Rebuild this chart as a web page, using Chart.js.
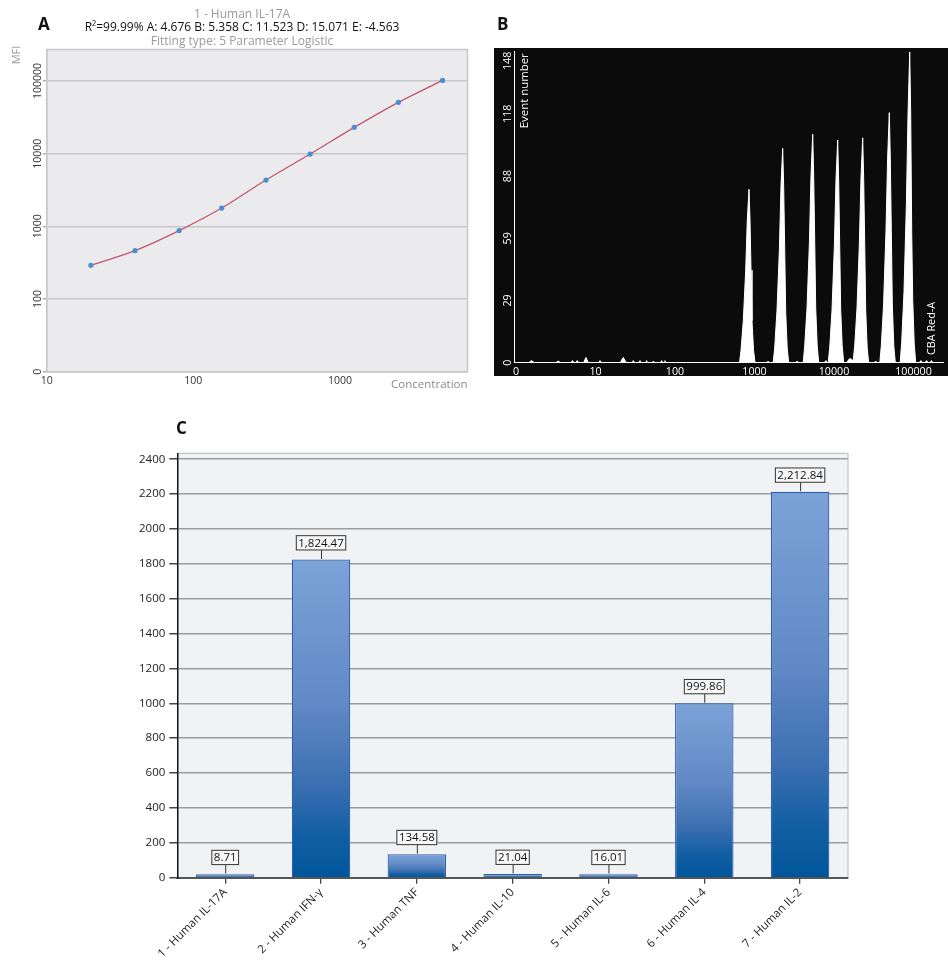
<!DOCTYPE html>
<html><head><meta charset="utf-8">
<script src="https://cdn.jsdelivr.net/npm/chart.js@4.4.1/dist/chart.umd.min.js"></script>
<style>
html,body{margin:0;padding:0;background:#fff;width:948px;height:960px;overflow:hidden;}
canvas{position:absolute;}
#cA{left:0;top:0;}
#cB{left:490px;top:0;}
#cC{left:100px;top:400px;}
</style></head>
<body>
<canvas id="cA" width="480" height="395"></canvas>
<canvas id="cB" width="458" height="380"></canvas>
<canvas id="cC" width="790" height="560"></canvas>
<script>
// ---------- Panel A data ----------
const stdConc = [20, 40, 80, 156, 312.5, 625, 1250, 2500, 5000];
const stdMFI = [291, 463, 873, 1785, 4335, 9874, 23000, 50770, 101900];
const aXTicks = [10, 100, 1000];
const aYTicks = [10, 100, 1000, 10000, 100000];
const aYTickLabels = ['0', '100', '1000', '10000', '100000'];
const aTitle = '1 - Human IL-17A';
const aFit = 'R\u00B2=99.99% A: 4.676 B: 5.358 C: 11.523 D: 15.071 E: -4.563';
const aFitType = 'Fitting type: 5 Parameter Logistic';

// ---------- Panel B data ----------
const bXTicks = [0, 10, 100, 1000, 10000, 100000];
const bYTicks = [0, 29.6, 59.2, 88.8, 118.4, 148];
const histMFI = [
  0,1.6,1.97,2.3,5.0,5.3,5.6,6.9,7.1,7.3,7.5,7.7,7.9,8.5,8.8,9.1,11,11.4,11.8,
  20.5,21.5,22.4,23.4,24.5,29,29.9,30.8,35,36.3,37.5,43,44,45,52,53.5,55,66,68,70,73,74.8,76.5,
  648,677,723,775,812,853,878,904,930,972,1015,
  1400,1480,1560,
  1719,1795,1919,2057,2154,2263,2330,2398,2468,2578,2693,
  3300,3450,3600,
  4099,4281,4577,4905,5137,5397,5556,5719,5887,6148,6422,
  7600,7900,8200,
  8453,8830,9438,10116,10595,11130,11457,11794,12141,12679,13244,
  14500,15300,16000,16700,
  17438,18214,19470,20868,21856,22960,23635,24331,25045,26156,27320,
  32000,33500,35000,
  37679,39356,42069,45091,47224,49610,51069,52572,54115,56516,59031,
  68051,71080,75981,81437,85290,89600,92234,94949,97736,102072,106615,
  118000,124000,130000,140000,146000,152000,162000,168000,175000,235000
];
const histCount = [
  0,0,1,0,0,0.8,0,0,1,0,0,1,0,0,2.5,0,0,1,0,
  0,1.5,2.5,1.2,0,0,1,0,0,1,0,0,1,0,0,0.8,0,0,1,0,0,1,0,
  0,6,20,44,68,82.5,68,44,20,6,0,
  0,0.6,0,
  0,7,25,54,84,102,83,54,24,7,0,
  0,0.8,0,
  0,8,26,57,89,108.7,88,58,26,8,0,
  0,1,0,
  0,7,25,56,87,106,86,56,25,8,0,
  0,1.5,2,1.5,
  1,8,26,57,88,107,87,57,25,7,0,
  0,0.8,0,
  0,8,28,63,97,119,97,63,28,8,0,
  0,10,34,76,118,148,118,62,30,9,0,
  0,1,0,0,1,0,0,1,0,0
];

// ---------- Panel C data ----------
const cytokines = ['1 - Human IL-17A','2 - Human IFN-\u03B3','3 - Human TNF','4 - Human IL-10','5 - Human IL-6','6 - Human IL-4','7 - Human IL-2'];
const concentrations = [8.71, 1824.47, 134.58, 21.04, 16.01, 999.86, 2212.84];
const cYTicks = [0, 200, 400, 600, 800, 1000, 1200, 1400, 1600, 1800, 2000, 2200, 2400];

// ---------- helpers ----------
Chart.defaults.font.family = '"Open Sans", sans-serif';
function vtext(ctx, text, x, y, align, font, color) {
  ctx.save(); ctx.translate(x, y); ctx.rotate(-Math.PI / 2);
  ctx.font = font; ctx.fillStyle = color; ctx.textAlign = align; ctx.textBaseline = 'middle';
  ctx.fillText(text, 0, 0); ctx.restore();
}
function htext(ctx, text, x, y, align, font, color) {
  ctx.save(); ctx.font = font; ctx.fillStyle = color; ctx.textAlign = align; ctx.textBaseline = 'middle';
  ctx.fillText(text, x, y); ctx.restore();
}
function toAxis(v) { return v <= 10 ? v / 10 : Math.log10(v); }

// ---------- Panel A ----------
const panelA = {
  id: 'panelA',
  beforeDraw(chart) {
    const c = chart.ctx, a = chart.chartArea;
    c.save(); c.fillStyle = '#ebebed'; c.fillRect(a.left, a.top, a.right - a.left, a.bottom - a.top); c.restore();
  },
  afterDraw(chart) {
    const c = chart.ctx, a = chart.chartArea, ys = chart.scales.y;
    c.save(); c.strokeStyle = '#c8c8c8'; c.lineWidth = 1.5;
    c.strokeRect(a.left, a.top, a.right - a.left, a.bottom - a.top); c.restore();
    ys.ticks.forEach((t, i) => {
      vtext(c, aYTickLabels[i], a.left - 9, ys.getPixelForValue(t.value), 'center', '10.5px "Open Sans"', '#333');
    });
    htext(c, aTitle, 242, 14.5, 'center', '12px "Open Sans"', '#9a9a9a');
    htext(c, aFit, 242, 28, 'center', '12px "Open Sans"', '#111');
    htext(c, aFitType, 242, 42, 'center', '12px "Open Sans"', '#9a9a9a');
    vtext(c, 'MFI', 17, 55, 'center', '11px "Open Sans"', '#9a9a9a');
    htext(c, 'Concentration', a.right, 385, 'right', '11.5px "Open Sans"', '#8a8a8a');
    c.save(); c.font = 'bold 17px "Open Sans"'; c.fillStyle = '#111'; c.textAlign = 'left'; c.textBaseline = 'alphabetic';
    c.fillText('A', 38, 30); c.restore();
  }
};
new Chart(document.getElementById('cA'), {
  type: 'line',
  data: { datasets: [{
    data: stdConc.map((v, i) => ({ x: v, y: stdMFI[i] })),
    borderColor: '#c4566c', borderWidth: 1.3, fill: false,
    pointRadius: 2.6, pointBackgroundColor: '#4b8fd3', pointBorderColor: '#4b8fd3', pointBorderWidth: 0,
    cubicInterpolationMode: 'monotone'
  }]},
  options: {
    responsive: false, animation: false, events: [],
    layout: { padding: { top: 49.5, right: 12.5, left: 0, bottom: 0 } },
    plugins: { legend: { display: false }, tooltip: { enabled: false } },
    scales: {
      x: { type: 'logarithmic', min: 10, max: 7396,
        afterBuildTicks: s => { s.ticks = aXTicks.map(v => ({ value: v })); },
        afterFit: s => { s.height = 23.3; },
        grid: { display: false, drawTicks: false },
        border: { color: '#c8c8c8', width: 1.5 },
        ticks: { color: '#333', font: { size: 10.5 }, padding: 3, maxRotation: 0, autoSkip: false, callback: v => String(v) } },
      y: { type: 'logarithmic', min: 10, max: 271000,
        afterBuildTicks: s => { s.ticks = aYTicks.map(v => ({ value: v })); },
        afterFit: s => { s.width = 46.7; },
        grid: { color: '#c8c8ca', lineWidth: 1.5, tickLength: 4, tickColor: '#b0b0b0' },
        border: { color: '#c8c8c8', width: 1.5 },
        ticks: { display: false } }
    }
  },
  plugins: [panelA]
});

// ---------- Panel B ----------
const panelB = {
  id: 'panelB',
  beforeDraw(chart) {
    const c = chart.ctx, a = chart.chartArea;
    c.save(); c.fillStyle = '#0b0b0b';
    c.fillRect(a.left - 20, a.top - 3.7, chart.width - (a.left - 20), (a.bottom + 13.3) - (a.top - 3.7));
    c.restore();
  },
  afterDraw(chart) {
    const c = chart.ctx, a = chart.chartArea, ys = chart.scales.y;
    const f = '10.7px "Open Sans"';
    c.save(); c.font = f;
    ys.ticks.forEach(t => {
      const s = String(Math.floor(t.value));
      const hw = c.measureText(s).width / 2;
      const y = Math.max(ys.getPixelForValue(t.value), a.top + hw);
      vtext(c, s, a.left - 6, y, 'center', f, '#fff');
    });
    c.restore();
    vtext(c, 'Event number', a.left + 11, a.top + 1.6, 'right', '11.4px "Open Sans"', '#fff');
    vtext(c, 'CBA Red-A', a.right - 11, a.bottom - 7.7, 'left', '10.8px "Open Sans"', '#fff');
    c.save(); c.font = 'bold 17px "Open Sans"'; c.fillStyle = '#111'; c.textAlign = 'left'; c.textBaseline = 'alphabetic';
    c.fillText('B', 7, 30); c.restore();
  }
};
new Chart(document.getElementById('cB'), {
  type: 'line',
  data: { datasets: [{
    data: histMFI.map((v, i) => ({ x: toAxis(v), y: histCount[i] })),
    borderColor: '#ffffff', borderWidth: 1, backgroundColor: '#ffffff', fill: 'origin',
    pointRadius: 0, tension: 0
  }]},
  options: {
    responsive: false, animation: false, events: [],
    layout: { padding: { top: 51.7, right: 5, left: 0, bottom: 0 } },
    plugins: { legend: { display: false }, tooltip: { enabled: false } },
    scales: {
      x: { type: 'linear', min: -0.025, max: 5.371,
        afterBuildTicks: s => { s.ticks = bXTicks.map(v => ({ value: toAxis(v) })); },
        afterFit: s => { s.height = 17.3; },
        grid: { display: false, drawTicks: false },
        border: { color: '#ffffff', width: 1 },
        ticks: { color: '#fff', font: { size: 10.7 }, padding: 3, maxRotation: 0, autoSkip: false, callback: (v, i) => String(bXTicks[i]) } },
      y: { type: 'linear', min: 0, max: 148,
        afterBuildTicks: s => { s.ticks = bYTicks.map(v => ({ value: v })); },
        afterFit: s => { s.width = 24; },
        grid: { display: false, drawTicks: false },
        border: { color: '#ffffff', width: 1 },
        ticks: { display: false } }
    }
  },
  plugins: [panelB]
});

// ---------- Panel C ----------
function barGradient(ctx) {
  const chart = ctx.chart;
  if (!chart.chartArea || ctx.type !== 'data') return '#5b87c4';
  const ys = chart.scales.y;
  const bot = ys.getPixelForValue(0);
  const top = Math.min(ys.getPixelForValue(ctx.raw), bot - 3.5);
  if (!isFinite(top) || !isFinite(bot) || bot - top < 1) return '#5b87c4';
  const g = chart.ctx.createLinearGradient(0, top, 0, bot);
  g.addColorStop(0, '#7ca3d8');
  g.addColorStop(0.45, '#6189c5');
  g.addColorStop(0.7, '#3d70b2');
  g.addColorStop(0.86, '#135fa3');
  g.addColorStop(1, '#00569b');
  return g;
}
const panelC = {
  id: 'panelC',
  beforeDraw(chart) {
    const c = chart.ctx, a = chart.chartArea;
    c.save(); c.fillStyle = '#f1f2f4'; c.fillRect(a.left, a.top, a.right - a.left, a.bottom - a.top);
    c.strokeStyle = '#c4c4c6'; c.lineWidth = 1.2;
    c.beginPath(); c.moveTo(a.left, a.top); c.lineTo(a.right, a.top); c.lineTo(a.right, a.bottom); c.stroke();
    c.restore();
  },
  afterDatasetsDraw(chart) {
    const c = chart.ctx, meta = chart.getDatasetMeta(0);
    c.save();
    c.font = '11.5px "Open Sans"';
    meta.data.forEach((bar, i) => {
      const txt = concentrations[i].toLocaleString('en-US', { minimumFractionDigits: 2, maximumFractionDigits: 2 });
      const w = c.measureText(txt).width + 4, h = 14.3;
      const x = bar.x, top = bar.y - 0.6, bb = top - 9;
      c.strokeStyle = '#333'; c.lineWidth = 1;
      c.beginPath(); c.moveTo(x + 0.5, top); c.lineTo(x + 0.5, bb); c.stroke();
      c.fillStyle = '#f7f7f7'; c.fillRect(x - w / 2, bb - h, w, h);
      c.strokeRect(x - w / 2, bb - h, w, h);
      c.fillStyle = '#111'; c.textAlign = 'center'; c.textBaseline = 'middle';
      c.fillText(txt, x, bb - h / 2 + 0.5);
    });
    c.restore();
  },
  afterDraw(chart) {
    const c = chart.ctx;
    c.save(); c.font = 'bold 17px "Open Sans"'; c.fillStyle = '#111'; c.textAlign = 'left'; c.textBaseline = 'alphabetic';
    c.fillText('C', 76, 34); c.restore();
  }
};
new Chart(document.getElementById('cC'), {
  type: 'bar',
  data: { labels: cytokines, datasets: [{
    data: concentrations, backgroundColor: barGradient, borderColor: '#2a62ad', borderWidth: 1.2,
    barPercentage: 0.61, categoryPercentage: 1, minBarLength: 3.5
  }]},
  options: {
    responsive: false, animation: false, events: [],
    layout: { padding: { top: 53.3, right: 42, left: 0, bottom: 0 } },
    plugins: { legend: { display: false }, tooltip: { enabled: false } },
    scales: {
      x: { afterFit: s => { s.height = 82.3; },
        grid: { offset: false, drawOnChartArea: false, tickLength: 6, color: '#444', lineWidth: 1.3 },
        border: { color: '#555', width: 2 },
        ticks: { color: '#222', font: { size: 11.5 }, minRotation: 45, maxRotation: 45, autoSkip: false, padding: 2 } },
      y: { min: 0, max: 2434,
        afterBuildTicks: s => { s.ticks = cYTicks.map(v => ({ value: v })); },
        afterFit: s => { s.width = 77.3; },
        grid: { color: '#9c9c9c', lineWidth: 1.5, tickLength: 8, tickColor: '#444' },
        border: { color: '#111', width: 1.5 },
        ticks: { color: '#222', font: { size: 11.5 }, padding: 4, callback: v => String(v) } }
    }
  },
  plugins: [panelC]
});
</script>
</body></html>
